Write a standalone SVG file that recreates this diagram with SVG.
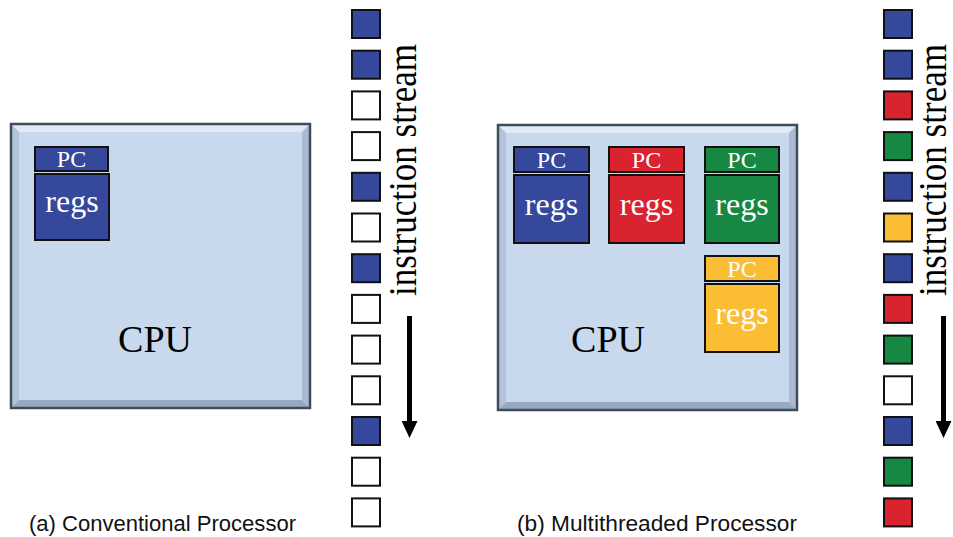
<svg xmlns="http://www.w3.org/2000/svg" width="953" height="537" viewBox="0 0 953 537">
<defs>
<style>
.face{fill:#c8d9ee}
.bt{fill:#e0eaf6}
.bl{fill:#b3c4da}
.bb{fill:#98a9bf}
.br{fill:#aabbd1}
.edge{fill:none;stroke:#3f4c5b;stroke-width:2.5}
.reg{stroke:#111;stroke-width:2}
.blue{fill:#35489c}
.red{fill:#d9232f}
.green{fill:#168843}
.yellow{fill:#fbbd33}
.white{fill:#ffffff}
.sq{stroke:#111;stroke-width:2}
.pc{font-family:"Liberation Serif","Times New Roman",serif;font-size:24px;fill:#fff;text-anchor:middle}
.rg{font-family:"Liberation Serif","Times New Roman",serif;font-size:32px;fill:#fff;text-anchor:middle}
.cpu{font-family:"Liberation Serif","Times New Roman",serif;font-size:38px;fill:#000;text-anchor:middle}
.vs{font-family:"Liberation Serif","Times New Roman",serif;font-size:39px;fill:#000;text-anchor:middle}
.cap{font-family:"Liberation Sans",Arial,sans-serif;font-size:22px;fill:#111}
.arr{stroke:#000;stroke-width:5;fill:none}
</style>
<marker id="ah" markerUnits="userSpaceOnUse" markerWidth="17" markerHeight="16" refX="0" refY="8" orient="auto">
<path d="M0,0 L17,8 L0,16 z" fill="#000"/>
</marker>
</defs>
<rect width="953" height="537" fill="#fff"/>

<!-- CPU (a) -->
<g id="cpu-a">
<rect x="11" y="124" width="299" height="284" class="face"/>
<polygon points="11,124 310,124 302,132 19,132" class="bt"/>
<polygon points="11,124 19,132 19,400 11,408" class="bl"/>
<polygon points="11,408 19,400 302,400 310,408" class="bb"/>
<polygon points="310,124 310,408 302,400 302,132" class="br"/>
<rect x="11" y="124" width="299" height="284" class="edge"/>
<text x="155" y="352" class="cpu">CPU</text>
</g>
<g id="regset-a-blue">
<rect x="35" y="147" width="73" height="24" class="reg blue"/>
<text x="71.5" y="167" class="pc">PC</text>
<rect x="35" y="174" width="74" height="66" class="reg blue"/>
<text x="72" y="212" class="rg">regs</text>
</g>

<!-- CPU (b) -->
<g id="cpu-b">
<rect x="498" y="125" width="299" height="285" class="face"/>
<polygon points="498,125 797,125 789,133 506,133" class="bt"/>
<polygon points="498,125 506,133 506,402 498,410" class="bl"/>
<polygon points="498,410 506,402 789,402 797,410" class="bb"/>
<polygon points="797,125 797,410 789,402 789,133" class="br"/>
<rect x="498" y="125" width="299" height="285" class="edge"/>
<text x="608" y="352" class="cpu">CPU</text>
</g>
<g id="regset-b-blue">
<rect x="514" y="147" width="75" height="25" class="reg blue"/>
<text x="551.5" y="168" class="pc">PC</text>
<rect x="514" y="175" width="75" height="68" class="reg blue"/>
<text x="551.5" y="215" class="rg">regs</text>
</g>
<g id="regset-b-red">
<rect x="609" y="147" width="75" height="25" class="reg red"/>
<text x="646.5" y="168" class="pc">PC</text>
<rect x="609" y="175" width="75" height="68" class="reg red"/>
<text x="646.5" y="215" class="rg">regs</text>
</g>
<g id="regset-b-green">
<rect x="705" y="147" width="74" height="25" class="reg green"/>
<text x="742" y="168" class="pc">PC</text>
<rect x="705" y="175" width="74" height="68" class="reg green"/>
<text x="742" y="215" class="rg">regs</text>
</g>
<g id="regset-b-yellow">
<rect x="705" y="256" width="74" height="25" class="reg yellow"/>
<text x="742" y="277" class="pc">PC</text>
<rect x="705" y="284" width="74" height="68" class="reg yellow"/>
<text x="742" y="324" class="rg">regs</text>
</g>

<!-- instruction stream (a) -->
<g id="stream-a">
<rect x="352" y="10" width="28" height="28" class="sq blue"/>
<rect x="352" y="50.7" width="28" height="28" class="sq blue"/>
<rect x="352" y="91.4" width="28" height="28" class="sq white"/>
<rect x="352" y="132.1" width="28" height="28" class="sq white"/>
<rect x="352" y="172.8" width="28" height="28" class="sq blue"/>
<rect x="352" y="213.5" width="28" height="28" class="sq white"/>
<rect x="352" y="254.2" width="28" height="28" class="sq blue"/>
<rect x="352" y="294.9" width="28" height="28" class="sq white"/>
<rect x="352" y="335.6" width="28" height="28" class="sq white"/>
<rect x="352" y="376.3" width="28" height="28" class="sq white"/>
<rect x="352" y="417" width="28" height="28" class="sq blue"/>
<rect x="352" y="457.7" width="28" height="28" class="sq white"/>
<rect x="352" y="498.4" width="28" height="28" class="sq white"/>
<text class="vs" transform="translate(416,170) rotate(-90)" x="0" y="0" textLength="252" lengthAdjust="spacingAndGlyphs">instruction stream</text>
</g>

<!-- instruction stream (b) -->
<g id="stream-b">
<rect x="884" y="10" width="28" height="28" class="sq blue"/>
<rect x="884" y="50.7" width="28" height="28" class="sq blue"/>
<rect x="884" y="91.4" width="28" height="28" class="sq red"/>
<rect x="884" y="132.1" width="28" height="28" class="sq green"/>
<rect x="884" y="172.8" width="28" height="28" class="sq blue"/>
<rect x="884" y="213.5" width="28" height="28" class="sq yellow"/>
<rect x="884" y="254.2" width="28" height="28" class="sq blue"/>
<rect x="884" y="294.9" width="28" height="28" class="sq red"/>
<rect x="884" y="335.6" width="28" height="28" class="sq green"/>
<rect x="884" y="376.3" width="28" height="28" class="sq white"/>
<rect x="884" y="417" width="28" height="28" class="sq blue"/>
<rect x="884" y="457.7" width="28" height="28" class="sq green"/>
<rect x="884" y="498.4" width="28" height="28" class="sq red"/>
<text class="vs" transform="translate(946,170) rotate(-90)" x="0" y="0" textLength="252" lengthAdjust="spacingAndGlyphs">instruction stream</text>
</g>

<g id="connectors">
<line x1="409.5" y1="316" x2="409.5" y2="421" class="arr" marker-end="url(#ah)"/>
<line x1="943.5" y1="316" x2="943.5" y2="421" class="arr" marker-end="url(#ah)"/>
</g>

<g id="captions">
<text x="29" y="531" class="cap" textLength="267" lengthAdjust="spacingAndGlyphs">(a) Conventional Processor</text>
<text x="517" y="531" class="cap" textLength="280" lengthAdjust="spacingAndGlyphs">(b) Multithreaded Processor</text>
</g>
</svg>
